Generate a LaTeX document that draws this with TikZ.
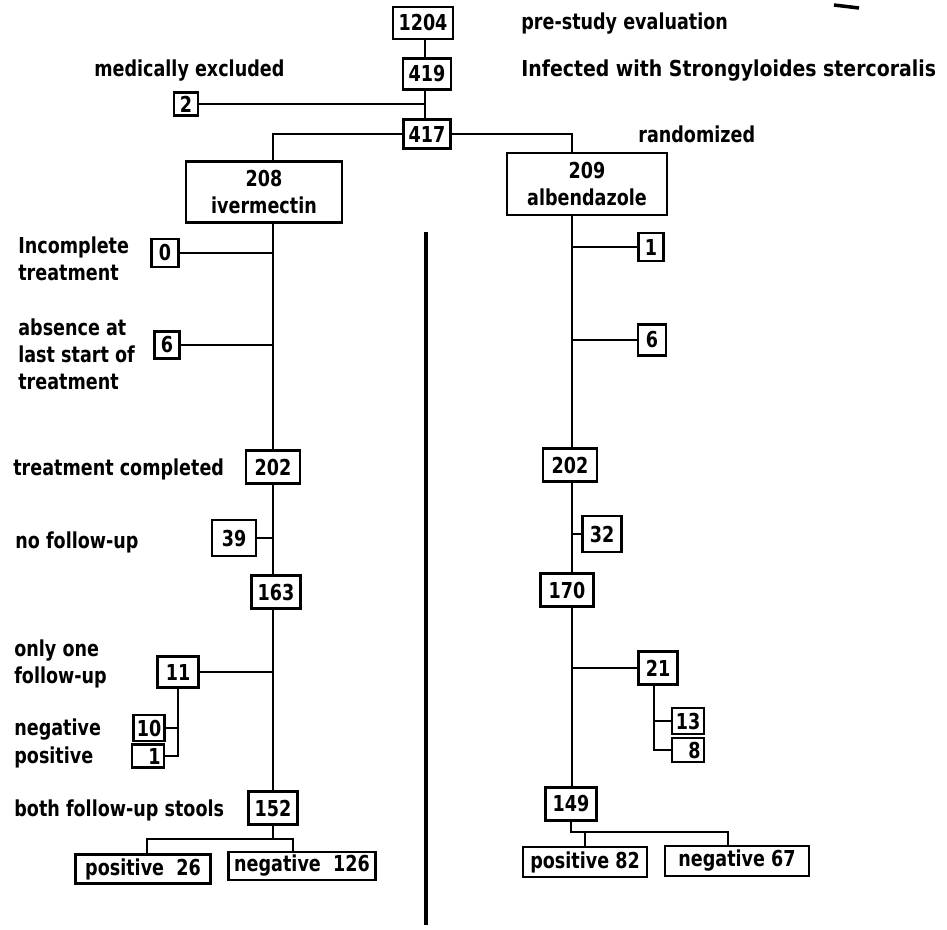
\documentclass[tikz,border=0pt]{standalone}
\usepackage{fontspec}
\setmainfont{DejaVu Sans}[FakeStretch=0.8]
\tikzset{
  caja/.style={draw, line width=1.3pt, inner sep=0pt, align=center},
  tam/.style 2 args={minimum width=#1*0.02cm, minimum height=#2*0.02cm},
  etiqueta/.style={anchor=west, align=left, inner sep=0pt},
  linea/.style={line width=1.1pt},
  every node/.style={font=\bfseries\fontsize{12.5}{15.3}\selectfont}
}
\begin{document}
\begin{tikzpicture}[x=0.02cm, y=-0.02cm]
    \useasboundingbox (0,0) rectangle (947,930);
    % Troncos
    \coordinate (tc) at (425,0);
    \coordinate (tl) at (273,0);
    \coordinate (tr) at (572,0);
    % Parte superior
    \node[caja, tam={60}{32}] (n1204) at (423,23) {1204};
    \node[caja, tam={48}{31}] (n419) at (427,74) {419};
    \node[caja, tam={47}{29}] (n417) at (427,134) {417};
    \node[caja, tam={24}{23}] (n2) at (186,104) {2};
    \node[etiqueta] (lpre) at (521,24) {pre-study evaluation};
    \node[etiqueta] (lmed) at (94,71) {medically excluded};
    \node[etiqueta, font=\bfseries\fontsize{12.5}{15.3}\selectfont\addfontfeature{FakeStretch=0.86}] (linf) at (521,71) {Infected with Strongyloides stercoralis};
    \node[etiqueta] (lran) at (638,134) {randomized};
    \draw[linea] (n1204.south -| tc) -- (n419.north -| tc);
    \draw[linea] (n419.south -| tc) -- (n417.north -| tc);
    \draw[linea] (n2.east) -- (n2 -| tc);
    % Marca
    \coordinate (m1) at (834,5);
    \coordinate (m2) at (859,8);
    \draw[line width=2pt] (m1) -- (m2);
    % Grupos
    \node[caja, tam={156}{61}] (n208) at (264,192) {208\\ivermectin};
    \node[caja, tam={160}{62}] (n209) at (587,184) {209\\albendazole};
    \draw[linea] (n417.west) -- (n417.west -| tl) -- (n208.north -| tl);
    \draw[linea] (n417.east) -- (n417.east -| tr) -- (n209.north -| tr);
    % Ivermectina
    \node[caja, tam={27}{28}] (n0) at (165,253) {0};
    \node[caja, tam={25}{27}] (n6a) at (167,345) {6};
    \node[caja, tam={54}{33}] (n202a) at (273,467) {202};
    \node[caja, tam={44}{36}] (n39) at (234,538) {39};
    \node[caja, tam={49}{33}] (n163) at (276,592) {163};
    \node[caja, tam={41}{31}] (n11) at (178,672) {11};
    \node[caja, tam={31}{26}] (n10) at (149,728) {10};
    \node[caja, tam={32}{23}, text width=0.5cm, align=right] (n1a) at (148,756) {1};
    \node[caja, tam={49}{33}] (n152) at (273,808) {152};
    \node[caja, tam={135}{29}] (pos26) at (143,869) {positive\ \ 26};
    \node[caja, tam={147}{28}] (neg126) at (302,866) {negative\ \ 126};
    \node[etiqueta] (linc) at (18,259) {Incomplete\\treatment};
    \node[etiqueta] (labs) at (18,354) {absence at\\last start of\\treatment};
    \node[etiqueta] (lcom) at (13,469) {treatment completed};
    \node[etiqueta] (lno) at (15,542) {no follow-up};
    \node[etiqueta] (lone) at (14,664) {only one\\follow-up};
    \node[etiqueta] (lneg) at (14,730) {negative};
    \node[etiqueta] (lpos) at (14,757) {positive};
    \node[etiqueta] (lboth) at (14,810) {both follow-up stools};
    \draw[linea] (n208.south -| tl) -- (n202a.north -| tl);
    \draw[linea] (n0.east) -- (n0 -| tl);
    \draw[linea] (n6a.east) -- (n6a -| tl);
    \draw[linea] (n202a.south -| tl) -- (n163.north -| tl);
    \draw[linea] (n39.east) -- (n39 -| tl);
    \draw[linea] (n163.south -| tl) -- (n152.north -| tl);
    \draw[linea] (n11.east) -- (n11 -| tl);
    \draw[linea] (n11.south) |- (n1a.east);
    \draw[linea] (n10.east) -- (n10 -| n11.south);
    \coordinate (b1) at (273,839);
    \draw[linea] (n152.south) -- (b1);
    \draw[linea] ([xshift=0.08cm]pos26.north) |- (b1) -| ([xshift=-0.18cm]neg126.north);
    % Albendazol
    \node[caja, tam={25}{28}] (n1b) at (651,247) {1};
    \node[caja, tam={28}{31}] (n6b) at (652,340) {6};
    \node[caja, tam={54}{33}] (n202b) at (570,465) {202};
    \node[caja, tam={39}{36}] (n32) at (602,534) {32};
    \node[caja, tam={53}{33}] (n170) at (567,590) {170};
    \node[caja, tam={39}{33}] (n21) at (658,668) {21};
    \node[caja, tam={32}{26}] (n13) at (688,721) {13};
    \node[caja, tam={32}{24}, text width=0.5cm, align=right] (n8) at (688,750) {8};
    \node[caja, tam={51}{33}] (n149) at (571,804) {149};
    \node[caja, tam={124}{30}] (pos82) at (585,862) {positive 82};
    \node[caja, tam={144}{30}] (neg67) at (737,861) {negative 67};
    \draw[linea] (n209.south -| tr) -- (n202b.north -| tr);
    \draw[linea] (n1b.west) -- (n1b -| tr);
    \draw[linea] (n6b.west) -- (n6b -| tr);
    \draw[linea] (n202b.south -| tr) -- (n170.north -| tr);
    \draw[linea] (n32.west) -- (n32 -| tr);
    \draw[linea] (n170.south -| tr) -- (n149.north -| tr);
    \draw[linea] (n21.west) -- (n21 -| tr);
    \coordinate (v21) at ([xshift=-0.08cm]n21.south);
    \draw[linea] (v21) |- (n8.west);
    \draw[linea] (n13.west) -- (n13 -| v21);
    \coordinate (b2) at (571,832);
    \draw[linea] (n149.south) -- (b2) -| ([xshift=-0.18cm]neg67.north);
    \draw[linea] (b2 -| pos82.north) -- (pos82.north);
    % Separador
    \coordinate (sep1) at (426,232);
    \coordinate (sep2) at (426,925);
    \draw[line width=2pt] (sep1) -- (sep2);
\end{tikzpicture}
\end{document}
